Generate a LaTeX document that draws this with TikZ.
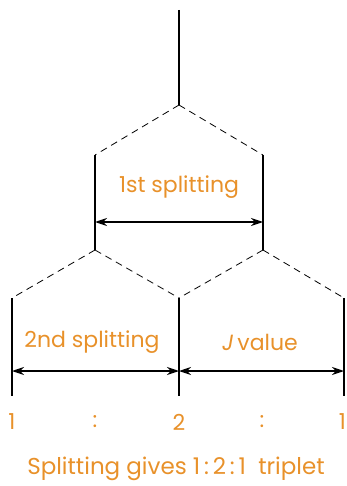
\documentclass[tikz,border=0pt]{standalone}
\usepackage{fontspec}
\setmainfont{Poppins}
\usetikzlibrary{arrows.meta}
\definecolor{splitorange}{HTML}{E8912A}
\begin{document}
\begin{tikzpicture}[x=1pt,y=-1pt,
    stem/.style={line width=1.8pt},
    split/.style={line width=0.8pt, dash pattern=on 7pt off 5pt},
    gap/.style={{Stealth[length=12pt,width=8pt]}-{Stealth[length=12pt,width=8pt]}, line width=1.3pt},
    lbl/.style={text=splitorange, font=\fontsize{22}{26}\selectfont, inner sep=0pt}]
    \useasboundingbox (0,0) rectangle (346,486);
    % branching points
    \coordinate (top) at (179,10);
    \coordinate (b0) at (179,105);
    \coordinate (l1) at (95,155);
    \coordinate (r1) at (263,155);
    \coordinate (l1e) at (95,250);
    \coordinate (r1e) at (263,250);
    \coordinate (p1) at (12,298);
    \coordinate (p2) at (179,298);
    \coordinate (p3) at (344,298);
    \coordinate (p1e) at (12,396);
    \coordinate (p2e) at (179,396);
    \coordinate (p3e) at (344,396);
    \draw[stem] (top) -- (b0);
    \draw[split] (b0) -- (l1) (b0) -- (r1);
    \draw[stem] (l1) -- (l1e) (r1) -- (r1e);
    \draw[split] (l1e) -- (p1) (l1e) -- (p2) (r1e) -- (p2) (r1e) -- (p3);
    \draw[stem] (p1) -- (p1e) (p2) -- (p2e) (p3) -- (p3e);
    % spacings
    \coordinate (a1) at (95,222);
    \coordinate (a2) at (263,222);
    \coordinate (c1) at (12,371);
    \coordinate (c2) at (179,371);
    \coordinate (c3) at (344,371);
    \draw[gap] (a1) -- (a2);
    \draw[gap] (c1) -- (c2);
    \draw[gap] (c2) -- (c3);
    \node[lbl] (first) at (179,187) {1st splitting};
    \node[lbl] (second) at (92,342) {2nd splitting};
    \node[lbl] (jval) at (260,342) {\textit{J}\,value};
    % intensities
    \node[lbl] (n1) at (12,422) {1};
    \node[lbl] (n2) at (95,422) {:};
    \node[lbl] (n3) at (179,422) {2};
    \node[lbl] (n4) at (262,422) {:};
    \node[lbl, anchor=east] (n5) at (346,422) {1};
    \node[lbl, font=\fontsize{23}{27}\selectfont] (caption) at (176,469) {Splitting gives 1\,:\,2\,:\,1\ \ triplet};
\end{tikzpicture}
\end{document}
